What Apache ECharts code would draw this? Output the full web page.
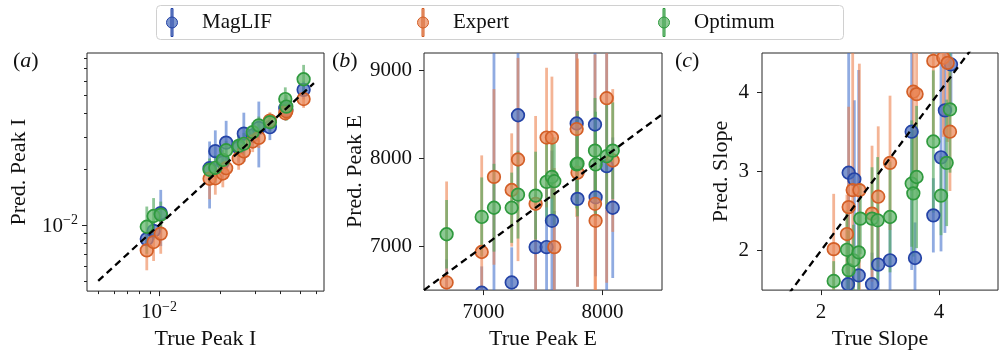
<!DOCTYPE html>
<html>
<head>
<meta charset="utf-8">
<script src="https://cdn.jsdelivr.net/npm/echarts@6.0.0/dist/echarts.min.js"></script>
<style>
  html, body { margin: 0; padding: 0; background: #fff; }
  #chart { width: 999px; height: 355px; }
</style>
</head>
<body>
<div id="chart"></div>
<script>
// ---- Peak current (log-log) ----
const peakITrue       = [0.0087, 0.0094, 0.0102, 0.0178, 0.0190, 0.0207, 0.0215, 0.0248, 0.0263, 0.0291, 0.0312, 0.0354, 0.0422, 0.0427, 0.0520];
const peakIMagLIF     = [0.0084, 0.0093, 0.0116, 0.0203, 0.0251, 0.0218, 0.0279, 0.0262, 0.0312, 0.0305, 0.0335, 0.0338, 0.0428, 0.0420, 0.0538];
const peakIMagLIFErr  = [0.0008, 0.0010, 0.0039, 0.0080, 0.0074, 0.0040, 0.0087, 0.0045, 0.0093, 0.0045, 0.0130, 0.0050, 0.0060, 0.0050, 0.0060];
const peakIExpert     = [0.0073, 0.0081, 0.0090, 0.0178, 0.0179, 0.0190, 0.0203, 0.0229, 0.0250, 0.0283, 0.0296, 0.0367, 0.0402, 0.0412, 0.0480];
const peakIExpertErr  = [0.0016, 0.0017, 0.0020, 0.0040, 0.0033, 0.0030, 0.0025, 0.0030, 0.0030, 0.0035, 0.0035, 0.0040, 0.0030, 0.0040, 0.0050];
const peakIOptimum    = [0.0098, 0.0112, 0.0114, 0.0199, 0.0204, 0.0225, 0.0254, 0.0268, 0.0275, 0.0318, 0.0346, 0.0360, 0.0480, 0.0437, 0.0614];
const peakIOptimumErr = [0.0028, 0.0028, 0.0020, 0.0030, 0.0035, 0.0030, 0.0030, 0.0035, 0.0040, 0.0040, 0.0040, 0.0040, 0.0075, 0.0070, 0.0120];
const peakIMajorTicks = [0.01];
const peakIMinorTicksX = [0.005, 0.006, 0.007, 0.008, 0.009, 0.02, 0.03, 0.04, 0.05, 0.06];
const peakIMinorTicksY = [0.005, 0.006, 0.007, 0.008, 0.009, 0.02, 0.03, 0.04, 0.05, 0.06, 0.07, 0.08];

// ---- Peak energy ----
const peakETrue       = [6690, 6985, 7088, 7237, 7290, 7438, 7530, 7575, 7595, 7783, 7790, 7937, 7942, 8035, 8086];
const peakEMagLIF     = [6150, 6470, 6300, 6587, 8491, 6990, 6990, 7289, 5900, 8397, 7539, 8386, 7557, 7912, 7438];
const peakEMagLIFErr  = [700, 300, 3000, 400, 1000, 600, 700, 800, 1500, 900, 1000, 1000, 900, 1600, 800];
const peakEExpert     = [6587, 6934, 7789, 7640, 7987, 7483, 8237, 8237, 6990, 8334, 7837, 7483, 7289, 8685, 7976];
const peakEExpertErr  = [1150, 1100, 1000, 645, 1157, 1000, 795, 694, 900, 1000, 1300, 1700, 900, 2100, 813];
const peakEOptimum    = [7136, 7333, 7438, 7438, 7587, 7576, 7733, 7789, 7740, 7931, 7940, 8088, 7931, 8024, 8088];
const peakEOptimumErr = [390, 450, 500, 400, 500, 500, 470, 450, 500, 500, 600, 600, 600, 600, 550];
const peakETicksX = [7000, 8000];
const peakETicksY = [7000, 8000, 9000];

// ---- Slope ----
const slopeTrueMagLIF  = [2.469, 2.565, 2.458, 2.639, 2.865, 2.970, 3.170, 3.537, 3.593, 3.904, 4.034, 4.100, 4.203];
const slopeMagLIF      = [2.985, 2.902, 1.574, 1.686, 1.574, 1.823, 1.877, 3.504, 1.906, 2.446, 3.180, 3.774, 4.355];
const slopeMagLIFErr   = [1.70, 1.00, 0.50, 2.60, 0.40, 0.60, 0.60, 1.75, 0.45, 0.47, 1.19, 1.55, 0.60];
const slopeTrueExpert  = [2.215, 2.440, 2.469, 2.537, 2.650, 2.865, 2.970, 3.170, 3.565, 3.620, 3.904, 4.073, 4.147, 4.186];
const slopeExpert      = [2.018, 2.209, 2.550, 2.765, 2.765, 2.467, 2.682, 3.110, 4.010, 3.980, 4.400, 4.440, 4.375, 3.504];
const slopeExpertErr   = [0.70, 0.50, 1.27, 1.80, 1.60, 0.86, 0.89, 0.85, 1.10, 1.20, 1.00, 1.00, 1.00, 0.75];
const slopeTrueOptimum = [2.215, 2.440, 2.469, 2.550, 2.639, 2.667, 2.865, 2.960, 3.170, 3.537, 3.565, 3.620, 3.904, 4.034, 4.130, 4.186];
const slopeOptimum     = [1.616, 2.010, 1.753, 1.877, 1.977, 2.404, 2.404, 2.383, 2.425, 2.848, 2.724, 2.931, 3.380, 2.695, 3.110, 3.786];
const slopeOptimumErr  = [0.25, 0.50, 0.50, 0.45, 0.50, 0.45, 0.65, 0.80, 0.70, 0.80, 0.80, 0.90, 0.90, 0.50, 0.80, 0.80];
const slopeTicksX = [2, 4];
const slopeTicksY = [2, 3, 4];

const methods = ['MagLIF', 'Expert', 'Optimum'];

// ---- styling ----
const FONT = '"Liberation Serif", "DejaVu Serif", serif';
const INK = '#111';
const look = {
  MagLIF:  { face: 'rgba(70,105,185,0.7)', edge: '#2443a6', bar: 'rgba(70,115,205,0.6)' },
  Expert:  { face: 'rgba(233,132,84,0.7)', edge: '#d35f27', bar: 'rgba(236,130,78,0.6)' },
  Optimum: { face: 'rgba(92,178,102,0.7)', edge: '#2f9a3e', bar: 'rgba(80,168,92,0.64)' }
};

const zip3 = (xs, ys, es) => xs.map((x, i) => [x, ys[i], es[i]]);

const panels = [
  {
    label: 'a', xi: 0, yi: 0,
    rows: {
      MagLIF: zip3(peakITrue, peakIMagLIF, peakIMagLIFErr),
      Expert: zip3(peakITrue, peakIExpert, peakIExpertErr),
      Optimum: zip3(peakITrue, peakIOptimum, peakIOptimumErr)
    },
    diag: [0.005, 0.0585]
  },
  {
    label: 'b', xi: 1, yi: 1,
    rows: {
      MagLIF: zip3(peakETrue, peakEMagLIF, peakEMagLIFErr),
      Expert: zip3(peakETrue, peakEExpert, peakEExpertErr),
      Optimum: zip3(peakETrue, peakEOptimum, peakEOptimumErr)
    },
    diag: [6500, 8500]
  },
  {
    label: 'c', xi: 2, yi: 2,
    rows: {
      MagLIF: zip3(slopeTrueMagLIF, slopeMagLIF, slopeMagLIFErr),
      Expert: zip3(slopeTrueExpert, slopeExpert, slopeExpertErr),
      Optimum: zip3(slopeTrueOptimum, slopeOptimum, slopeOptimumErr)
    },
    diag: [1.45, 4.6]
  }
];

const gridBoxes = [
  { left: 87,  top: 53, width: 237, height: 241 },
  { left: 424, top: 53, width: 238, height: 241 },
  { left: 762, top: 53, width: 236, height: 241 }
];

// "10" with a raised exponent
const richPow = {
  b: { fontFamily: FONT, fontSize: 21, color: INK, padding: [2, 0, 0, 0], verticalAlign: 'bottom' },
  s: { fontFamily: FONT, fontSize: 14, color: INK, verticalAlign: 'top' }
};
const powLabel = v => '{b|10}{s|\u2212' + Math.round(-Math.log10(v)) + '}';
const plainLabel = v => String(v);

function axis(dim, gridIndex, o) {
  const base = {
    gridIndex,
    type: o.type || 'value',
    min: o.min, max: o.max,
    position: dim === 'x' ? 'bottom' : 'left',
    axisLine: { show: false },
    splitLine: { show: false },
    axisTick: {
      show: true, length: o.tickLen || 5, inside: false,
      customValues: o.ticks,
      lineStyle: { color: '#222', width: 1 }
    },
    axisLabel: o.noLabel ? { show: false } : {
      show: true,
      customValues: o.ticks,
      margin: o.margin,
      fontFamily: FONT, fontSize: 21, color: INK,
      formatter: o.formatter || plainLabel,
      rich: o.rich
    }
  };
  if (o.type === 'log') base.logBase = 10;
  if (o.name) {
    base.name = o.name;
    base.nameLocation = 'middle';
    base.nameGap = o.nameGap;
    base.nameTextStyle = { fontFamily: FONT, fontSize: 22, color: INK };
  }
  return base;
}

const xAxes = [
  axis('x', 0, { type: 'log', min: 0.0044, max: 0.0656, ticks: peakIMajorTicks, margin: 9, formatter: powLabel, rich: richPow, name: 'True Peak I', nameGap: 33 }),
  axis('x', 1, { min: 6500, max: 8500, ticks: peakETicksX, margin: 12, name: 'True Peak E', nameGap: 33 }),
  axis('x', 2, { min: 1, max: 5, ticks: slopeTicksX, margin: 12, name: 'True Slope', nameGap: 33 }),
  axis('x', 0, { type: 'log', min: 0.0044, max: 0.0656, ticks: peakIMinorTicksX, tickLen: 3, noLabel: true })
];
const yAxes = [
  axis('y', 0, { type: 'log', min: 0.0044, max: 0.0851, ticks: peakIMajorTicks, margin: 9, formatter: powLabel, rich: richPow, name: 'Pred. Peak I', nameGap: 57 }),
  axis('y', 1, { min: 6500, max: 9200, ticks: peakETicksY, margin: 12, name: 'Pred. Peak E', nameGap: 58 }),
  axis('y', 2, { min: 1.5, max: 4.5, ticks: slopeTicksY, margin: 13, name: 'Pred. Slope', nameGap: 30 }),
  axis('y', 0, { type: 'log', min: 0.0044, max: 0.0851, ticks: peakIMinorTicksY, tickLen: 3, noLabel: true })
];

// vertical error bar: y +/- err
function errorBar(params, api) {
  const x = api.value(0), y = api.value(1), e = api.value(2);
  const hi = api.coord([x, y + e]);
  const lo = api.coord([x, Math.max(y - e, 1e-9)]);
  return {
    type: 'line',
    shape: { x1: hi[0], y1: hi[1], x2: lo[0], y2: lo[1] },
    style: { stroke: api.visual('color'), lineWidth: 2.8 }
  };
}
function marker(style) {
  return (params, api) => {
    const p = api.coord([api.value(0), api.value(1)]);
    return {
      type: 'circle',
      shape: { cx: p[0], cy: p[1], r: 6.3 },
      style: { fill: style.face, stroke: style.edge, lineWidth: 1.7 }
    };
  };
}

const series = [];
panels.forEach(p => {
  methods.forEach(m => series.push({
    type: 'custom', name: m, xAxisIndex: p.xi, yAxisIndex: p.yi,
    data: p.rows[m], encode: { x: 0, y: 1 }, clip: true,
    itemStyle: { color: look[m].bar },
    renderItem: errorBar, silent: true
  }));
  series.push({
    type: 'line', xAxisIndex: p.xi, yAxisIndex: p.yi,
    data: [[p.diag[0], p.diag[0]], [p.diag[1], p.diag[1]]],
    showSymbol: false, symbol: 'none', clip: true, silent: true,
    lineStyle: { color: '#000', width: 2.3, type: [7, 4.5] }
  });
  methods.forEach(m => series.push({
    type: 'custom', name: m, xAxisIndex: p.xi, yAxisIndex: p.yi,
    data: p.rows[m], encode: { x: 0, y: 1 }, clip: true,
    itemStyle: { color: look[m].face },
    renderItem: marker(look[m])
  }));
});

// error-bar handle for the legend: round marker crossed by a vertical bar
const handleIcon = 'path://M5,0L7,0L7,28L5,28Z M0.5,14A5.5,5.5 0 1 1 11.5,14A5.5,5.5 0 1 1 0.5,14Z';
const legendLefts = [166, 417, 658];
const legends = methods.map((m, i) => ({
  left: legendLefts[i], top: 8,
  padding: 0,
  itemWidth: 12, itemHeight: 28,
  selectedMode: false,
  textStyle: { fontFamily: FONT, fontSize: 21, color: INK, padding: [0, 0, 0, 19] },
  data: [{ name: m, icon: handleIcon, itemStyle: { color: look[m].face, borderColor: look[m].edge, borderWidth: 1 } }]
}));

const panelTag = (t, x) => ({
  type: 'text', left: x, top: 50,
  style: {
    text: '{n|(}{i|' + t + '}{n|)}',
    rich: {
      n: { fontFamily: FONT, fontSize: 22, fill: INK },
      i: { fontFamily: FONT, fontSize: 22, fontStyle: 'italic', fill: INK }
    }
  }
});

const chart = echarts.init(document.getElementById('chart'), null, { renderer: 'canvas' });
chart.setOption({
  animation: false,
  backgroundColor: '#fff',
  grid: gridBoxes.map(g => Object.assign({ show: true, borderColor: '#262626', borderWidth: 1, backgroundColor: 'transparent', containLabel: false }, g)),
  xAxis: xAxes,
  yAxis: yAxes,
  legend: legends,
  graphic: [
    // legend frame
    { type: 'rect', left: 156, top: 5, z: -1, silent: true,
      shape: { width: 687, height: 34, r: 4 },
      style: { fill: '#fff', stroke: '#d0d0d0', lineWidth: 1 } },
    panelTag('a', 13), panelTag('b', 332), panelTag('c', 675)
  ],
  series
});
</script>
</body>
</html>
